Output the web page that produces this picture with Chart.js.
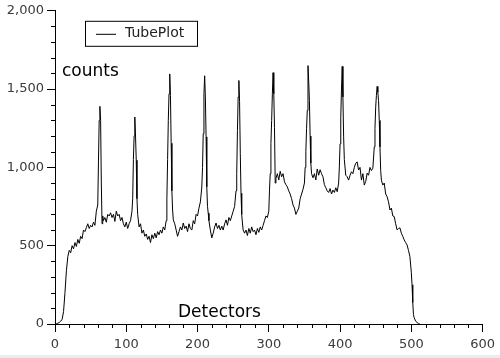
<!DOCTYPE html>
<html>
<head>
<meta charset="utf-8">
<script src="https://cdn.jsdelivr.net/npm/chart.js@4/dist/chart.umd.min.js"></script>
<style>
  html, body { margin: 0; padding: 0; background: #ececec; }
  #wrap { width: 500px; height: 355px; background: #ffffff; }
  canvas { display: block; }
</style>
</head>
<body>
<div id="wrap"><canvas id="c" width="500" height="355"></canvas></div>
<script>
// ---- data ----
const seriesLabel = "TubePlot";
const yTitle = "counts";
const xTitle = "Detectors";

const detectors = [
  0,2,4,6,8,10,12,14,16,18,20,22,24,26,28,30,32,34,36,38,
  40,42,44,46,48,50,52,54,56,58,60,61,62,63,64,65,66,67,68,70,
  72,74,76,78,80,82,84,86,88,90,92,94,96,98,100,102,104,106,108,109,
  110,111,112,113,114,115,116,118,120,122,124,126,128,130,132,134,136,138,140,142,
  144,146,148,150,152,154,156,157,158,159,160,161,162,163,164,165,166,168,170,172,
  174,176,178,180,182,184,186,188,190,192,194,196,198,200,202,204,206,207,208,209,
  210,211,212,213,214,215,216,218,220,222,224,226,228,230,232,234,236,238,240,242,
  244,246,248,250,252,254,255,256,257,258,259,260,261,262,263,264,266,268,270,272,
  274,276,278,280,282,284,286,288,290,292,294,296,298,300,301,302,303,304,305,306,
  307,308,309,310,312,314,316,318,320,322,324,326,328,330,332,334,336,338,340,342,
  344,346,348,350,351,352,353,354,355,356,357,358,359,360,362,364,366,368,370,372,
  374,376,378,380,382,384,386,388,390,392,394,396,398,399,400,401,402,403,404,405,
  406,408,410,412,414,416,418,420,422,424,426,428,430,432,434,436,438,440,442,444,
  446,448,449,450,451,452,453,454,455,456,457,458,460,462,464,466,468,470,472,474,
  476,478,480,482,484,486,488,490,492,494,496,498,500,501,502,503,504,506,508,510,
  512
];
const counts = [
  0,2,5,10,18,30,80,200,340,430,470,455,500,480,520,495,540,515,560,545,
  600,590,615,640,610,630,620,650,630,720,760,1040,1300,1390,1300,900,640,690,660,680,
  650,700,690,710,680,700,655,720,690,700,660,680,640,620,650,610,640,660,720,800,
  1050,1200,1322,1200,1046,800,700,620,640,580,600,560,575,540,560,520,570,545,580,550,
  590,570,600,580,620,600,660,800,1050,1300,1470,1597,1460,1154,850,728,665,640,600,560,
  590,620,600,645,610,625,590,640,610,600,660,640,700,690,740,780,875,1000,1215,1470,
  1585,1450,1195,876,750,708,660,600,550,580,620,645,610,630,600,625,600,640,665,630,
  680,660,690,720,750,850,960,1236,1450,1555,1420,1090,835,700,645,600,580,600,565,610,
  580,620,590,600,570,610,585,620,600,630,660,690,680,720,855,960,1154,1300,1470,1605,
  1470,1256,900,930,960,920,975,940,960,908,890,876,850,830,800,760,740,700,720,740,
  800,830,860,900,1000,1100,1250,1364,1650,1550,1428,1200,1027,960,934,960,920,990,950,985,
  960,940,890,870,850,840,865,830,855,840,870,845,900,1003,1150,1321,1500,1645,1450,1195,
  1050,950,940,919,950,972,960,1000,1027,1035,983,1000,919,960,887,910,963,950,1000,980,
  995,1131,1250,1385,1460,1517,1480,1428,1300,1131,980,919,887,900,830,813,780,728,740,690,
  686,640,601,610,614,580,560,537,520,505,470,431,330,250,137,60,40,18,10,3,
  0
];

const xMin = 0, xMax = 600, xMajor = 100, xMinor = 20;
const yMin = 0, yMax = 2000, yMajor = 500, yMinor = 100;

const points = detectors.map((d, i) => ({ x: d, y: counts[i] }));

const FONT = "'DejaVu Sans', sans-serif";
const TICK_COLOR = "#3a3a3a";

const overlay = {
  id: "overlay",
  afterDraw(chart) {
    const ctx = chart.ctx;
    const xs = chart.scales.x, ys = chart.scales.y;
    const ca = chart.chartArea;
    ctx.save();
    ctx.strokeStyle = "#000";
    ctx.lineWidth = 1;
    // minor ticks
    ctx.beginPath();
    for (let v = xMin; v <= xMax; v += xMinor) {
      if (v % xMajor === 0) continue;
      const px = Math.round(xs.getPixelForValue(v)) + 0.5;
      ctx.moveTo(px, ca.bottom);
      ctx.lineTo(px, ca.bottom + 4);
    }
    for (let v = yMin; v <= yMax; v += yMinor) {
      if (v % yMajor === 0) continue;
      const py = Math.round(ys.getPixelForValue(v)) + 0.5;
      ctx.moveTo(ca.left, py);
      ctx.lineTo(ca.left - 4, py);
    }
    ctx.stroke();

    // legend box
    const lx = ca.left + 30, ly = ca.top + 10, lw = 112, lh = 25;
    ctx.fillStyle = "#fff";
    ctx.fillRect(lx, ly, lw, lh);
    ctx.strokeRect(lx + 0.5, ly + 0.5, lw, lh);
    ctx.beginPath();
    ctx.moveTo(lx + 11, ly + 13.5);
    ctx.lineTo(lx + 31, ly + 13.5);
    ctx.stroke();
    ctx.fillStyle = "#222";
    ctx.font = "14px " + FONT;
    ctx.textBaseline = "middle";
    ctx.textAlign = "left";
    ctx.fillText(seriesLabel, lx + 40, ly + 13);

    // in-plot axis titles
    ctx.fillStyle = "#000";
    ctx.font = "17px " + FONT;
    ctx.textBaseline = "alphabetic";
    ctx.fillText(yTitle, ca.left + 7, ca.top + 65);
    ctx.fillText(xTitle, 178, ca.bottom - 7);
    ctx.restore();
  }
};

new Chart(document.getElementById("c"), {
  type: "line",
  data: {
    datasets: [{
      label: seriesLabel,
      data: points,
      borderColor: "#000",
      borderWidth: 1,
      pointRadius: 0,
      tension: 0,
      fill: false
    }]
  },
  options: {
    responsive: false,
    devicePixelRatio: 1,
    animation: false,
    layout: { padding: { top: 10, right: 17, left: 0, bottom: 0 } },
    plugins: { legend: { display: false }, tooltip: { enabled: false } },
    scales: {
      x: {
        type: "linear",
        min: xMin, max: xMax,
        ticks: { stepSize: xMajor, color: TICK_COLOR, font: { family: FONT, size: 13 }, padding: 5, maxRotation: 0 },
        grid: { display: true, drawOnChartArea: false, drawTicks: true, tickLength: 8, tickColor: "#000" },
        border: { display: true, color: "#000", width: 1 },
        afterFit(s) { s.height = 31; }
      },
      y: {
        type: "linear",
        min: yMin, max: yMax,
        ticks: { stepSize: yMajor, color: TICK_COLOR, font: { family: FONT, size: 13 }, padding: 3 },
        grid: { display: true, drawOnChartArea: false, drawTicks: true, tickLength: 8, tickColor: "#000" },
        border: { display: true, color: "#000", width: 1 },
        afterFit(s) { s.width = 55; }
      }
    }
  },
  plugins: [overlay]
});
</script>
</body>
</html>
